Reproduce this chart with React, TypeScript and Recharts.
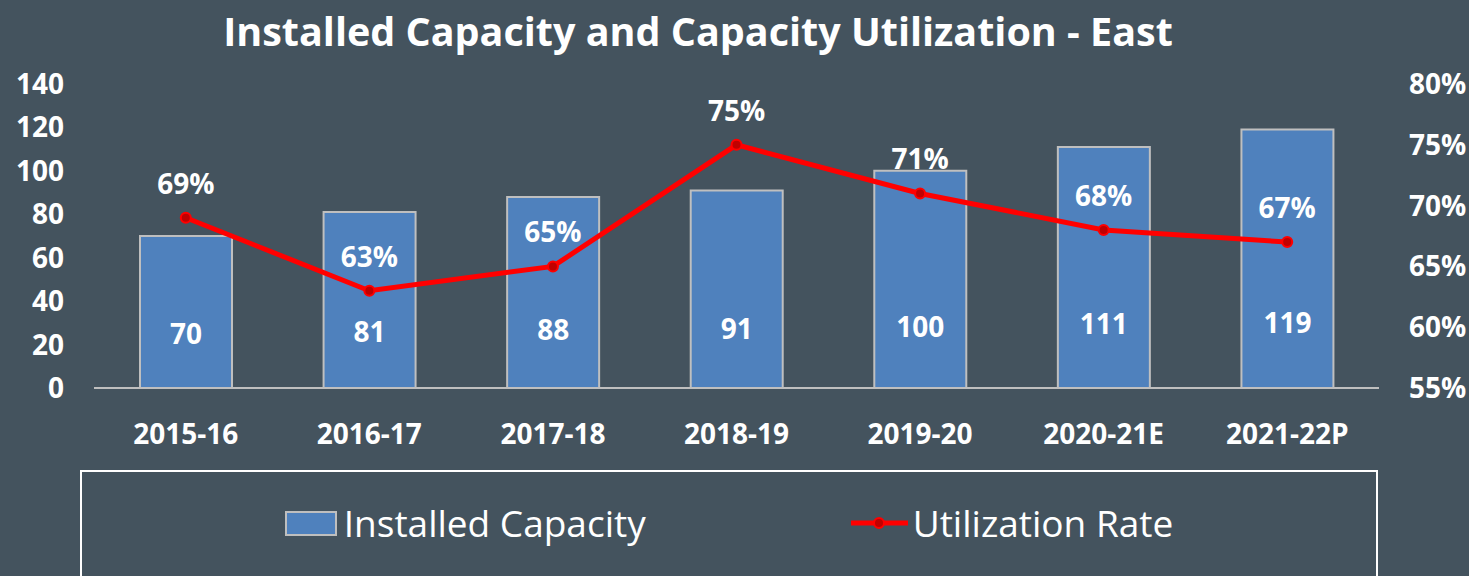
import React from 'react';
import { ComposedChart, Bar, Line, XAxis, YAxis, Legend, LabelList } from 'recharts';

// valeurs
const years = ['2015-16', '2016-17', '2017-18', '2018-19', '2019-20', '2020-21E', '2021-22P'];
const installedCapacity = [70, 81, 88, 91, 100, 111, 119];
const utilizationRate = [69, 63, 65, 75, 71, 68, 67];
const capacityTicks = [0, 20, 40, 60, 80, 100, 120, 140];
const rateTicks = [55, 60, 65, 70, 75, 80];

const data = years.map((year, i) => ({
  year,
  capacity: installedCapacity[i],
  rate: utilizationRate[i],
}));

const BG = '#44535e';
const FONT = '"Open Sans", sans-serif';
const tickStyle = { fill: '#ffffff', fontSize: 28, fontWeight: 700, fontFamily: FONT };

// étiquette des barres, placée un peu au-dessus de la base
const BarValueLabel = (props: any) => {
  const { x, y, width, height, value } = props;
  const cy = y + height - (38 + 0.11 * height);
  return (
    <text
      x={x + width / 2}
      y={cy}
      textAnchor="middle"
      dominantBaseline="central"
      fill="#ffffff"
      fontSize={28}
      fontWeight={700}
      fontFamily={FONT}
    >
      {value}
    </text>
  );
};

const LegendContent = () => (
  <div
    style={{
      display: 'flex',
      justifyContent: 'center',
      alignItems: 'center',
      gap: 205,
      paddingTop: 29,
      fontFamily: FONT,
      fontSize: 37,
      color: '#ffffff',
      lineHeight: '44px',
    }}
  >
    <div style={{ display: 'flex', alignItems: 'center', gap: 7 }}>
      <div
        style={{
          width: 52,
          height: 25,
          background: '#4f81bd',
          border: '2px solid #bfbfbf',
          boxSizing: 'border-box',
        }}
      />
      <span>Installed Capacity</span>
    </div>
    <div style={{ display: 'flex', alignItems: 'center', gap: 5 }}>
      <svg width={57} height={16}>
        <line x1={0} y1={8} x2={57} y2={8} stroke="#ff0000" strokeWidth={5} />
        <circle cx={28} cy={8} r={5} fill="#c00000" stroke="#ff0000" strokeWidth={2} />
      </svg>
      <span>Utilization Rate</span>
    </div>
  </div>
);

const App = () => {
  return (
    <div
      style={{
        position: 'absolute',
        left: 0,
        top: 0,
        width: 1469,
        height: 576,
        background: BG,
        overflow: 'hidden',
      }}
    >
      <div
        style={{
          position: 'absolute',
          left: 0,
          top: 11,
          width: 1396,
          textAlign: 'center',
          color: '#ffffff',
          fontFamily: FONT,
          fontWeight: 700,
          fontSize: 39.5,
          lineHeight: '40px',
          zIndex: 2,
        }}
      >
        Installed Capacity and Capacity Utilization - East
      </div>
      <ComposedChart
        width={1469}
        height={576}
        data={data}
        margin={{ top: 84, right: 0, left: 0, bottom: 18 }}
        barCategoryGap="25%"
      >
        <XAxis
          dataKey="year"
          height={50}
          tickLine={false}
          tickSize={0}
          tickMargin={36}
          axisLine={{ stroke: '#bfbfbf', strokeWidth: 2 }}
          tick={tickStyle}
          interval={0}
        />
        <YAxis
          yAxisId="left"
          orientation="left"
          width={94}
          domain={[0, 140]}
          ticks={capacityTicks}
          axisLine={false}
          tickLine={false}
          tickSize={0}
          tickMargin={30}
          tick={tickStyle}
          interval={0}
        />
        <YAxis
          yAxisId="right"
          orientation="right"
          width={90}
          domain={[55, 80]}
          ticks={rateTicks}
          axisLine={false}
          tickLine={false}
          tickSize={0}
          tickMargin={30}
          tick={{ ...tickStyle, textAnchor: 'start' }}
          tickFormatter={(v: number) => `${v}%`}
          interval={0}
        />
        <Legend
          content={<LegendContent />}
          wrapperStyle={{
            left: 80,
            top: 470,
            width: 1298,
            height: 120,
            border: '2px solid #ffffff',
            boxSizing: 'border-box',
          }}
        />
        <Bar
          yAxisId="left"
          dataKey="capacity"
          name="Installed Capacity"
          fill="#4f81bd"
          stroke="#bfbfbf"
          strokeWidth={2}
          barSize={92}
          isAnimationActive={false}
        >
          <LabelList dataKey="capacity" content={<BarValueLabel />} />
        </Bar>
        <Line
          yAxisId="right"
          type="linear"
          dataKey="rate"
          name="Utilization Rate"
          stroke="#ff0000"
          strokeWidth={5}
          dot={{ r: 5, fill: '#c00000', stroke: '#ff0000', strokeWidth: 2 }}
          activeDot={false}
          isAnimationActive={false}
        >
          <LabelList
            dataKey="rate"
            position="top"
            offset={24}
            formatter={(v: any) => `${v}%`}
            fill="#ffffff"
            fontSize={28}
            fontWeight={700}
            fontFamily={FONT}
          />
        </Line>
      </ComposedChart>
    </div>
  );
};

export default App;
